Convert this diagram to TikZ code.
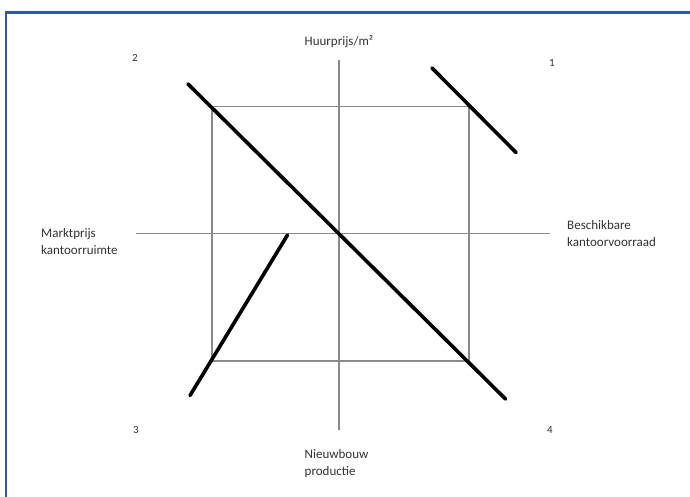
\documentclass[tikz,border=0pt]{standalone}
\usepackage{fontspec}
\setmainfont{Carlito}
\definecolor{frameblue}{HTML}{2F5A9A}
\definecolor{axisgray}{HTML}{8A8A8A}
\definecolor{txtgray}{HTML}{333333}
\tikzset{
  axis/.style={draw=axisgray, line width=1.4pt},
  thickline/.style={draw=black, line width=3.6pt, line cap=round},
  lbl/.style={text=txtgray, font=\fontsize{13}{17}\selectfont, inner sep=0pt, align=left},
  num/.style={text=txtgray, font=\fontsize{11}{13}\selectfont, inner sep=0pt}
}
\begin{document}
\begin{tikzpicture}[x=1pt,y=-1pt]
\useasboundingbox (0,0) rectangle (690,497);
\fill[white] (0,0) rectangle (690,497);
% frame
\draw[frameblue, line width=2.2pt] (6,497) -- (6,12.5) -- (690,12.5);
% square
\coordinate (sqA) at (212,106.5);
\coordinate (sqB) at (469,361);
\draw[axis] (sqA) rectangle (sqB);
% axes
\coordinate (axL) at (136,233.5);
\coordinate (axR) at (550,233.5);
\coordinate (axT) at (339,60);
\coordinate (axB) at (339,430);
\draw[axis] (axL) -- (axR);
\draw[axis] (axT) -- (axB);
% thick lines
\coordinate (m1) at (188,84);
\coordinate (m2) at (505.5,399);
\draw[thickline] (m1) -- (m2);
\coordinate (q1a) at (432,68);
\coordinate (q1b) at (516,152.5);
\draw[thickline] (q1a) -- (q1b);
\coordinate (q3a) at (287.5,235);
\coordinate (q3b) at (190,395.5);
\draw[thickline] (q3a) -- (q3b);
% labels
\node[lbl, anchor=center] (top) at (339,42) {Huurprijs/m²};
\node[lbl, anchor=west] (left) at (41,241.5) {Marktprijs\\kantoorruimte};
\node[lbl, anchor=west] (right) at (567,234) {Beschikbare\\kantoorvoorraad};
\node[lbl, anchor=west] (bottom) at (304.5,464) {Nieuwbouw\\productie};
\node[num] (n1) at (552,63) {1};
\node[num] (n2) at (135,58) {2};
\node[num] (n3) at (136,430) {3};
\node[num] (n4) at (550,430) {4};
\end{tikzpicture}
\end{document}
